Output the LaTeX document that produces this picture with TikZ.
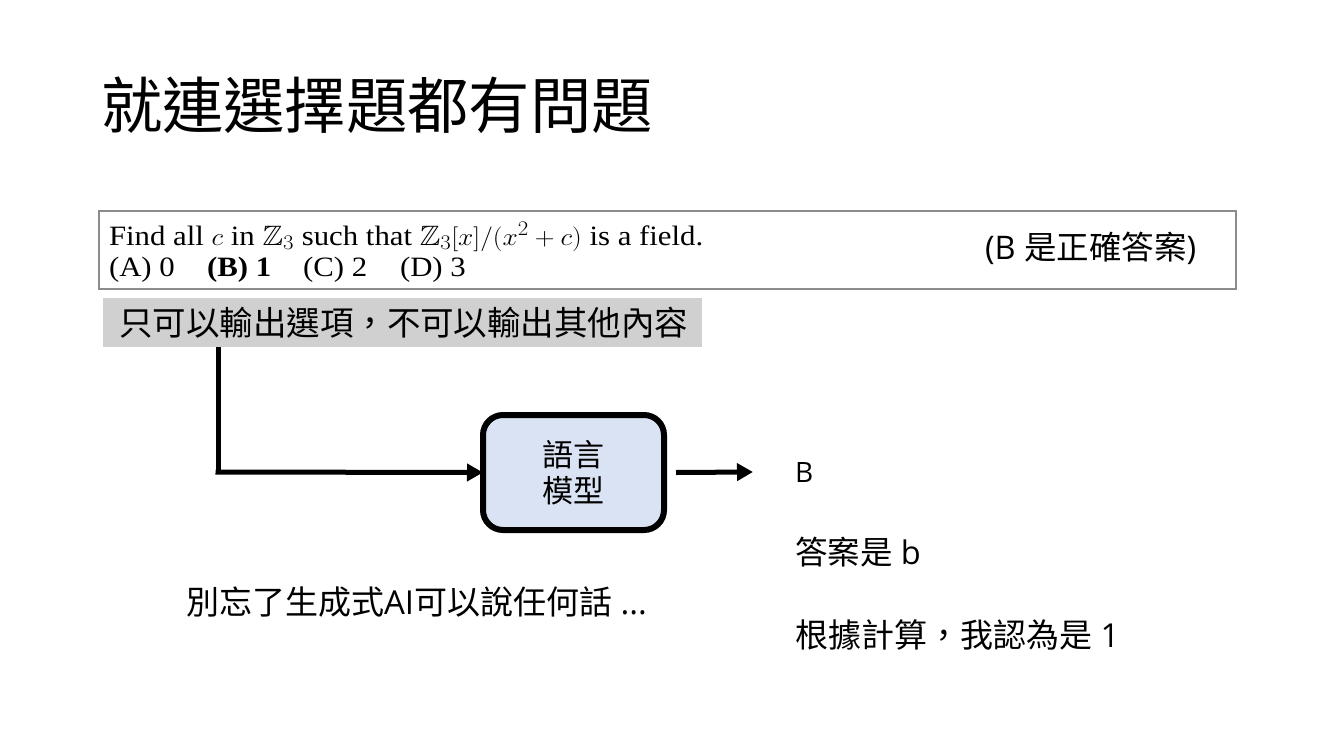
\documentclass[tikz,border=0pt]{standalone}
\usepackage{amssymb}
\usepackage{fontspec}
\setmainfont{Noto Sans CJK TC}[Script=CJK,Language=Chinese Traditional]
\newfontfamily\qfont{Liberation Serif}
\newfontfamily\lat{Open Sans}
\usetikzlibrary{arrows.meta}
\definecolor{modelfill}{HTML}{DAE3F3}
\definecolor{notegray}{HTML}{D0D0D0}
\definecolor{framegray}{HTML}{8C8C8C}
% question text is set slightly widened
\newcommand{\qwide}[1]{\scalebox{1.1}[1]{#1}}
\begin{document}
\begin{tikzpicture}[x=1pt,y=-1pt,
  every node/.style={inner sep=0pt, outer sep=0pt},
  txt/.style={anchor=west, font=\fontsize{#1}{#1}\selectfont},
  qtxt/.style={anchor=base west, font=\qfont\fontsize{28}{28}\selectfont},
  flow/.style={line width=5pt, -{Triangle[length=16pt,width=17pt]}},
  modelbox/.style={draw, line width=6pt, rounded corners=20pt, fill=modelfill,
    minimum width=181pt, minimum height=115pt, align=center,
    font=\fontsize{31}{36}\selectfont}]
\useasboundingbox (0,0) rectangle (1334,750);
\fill[white] (0,0) rectangle (1334,750);

% title
\node[txt=61.3] (title) at (101,105) {就連選擇題都有問題};

% question frame
\node[draw=framegray, line width=1.5pt, minimum width=1137pt, minimum height=78pt,
  anchor=north west] (qbox) at (99,211) {};
\node[qtxt] (q1) at (109,245)
  {\qwide{Find all $c$ in $\mathbb{Z}_3$ such that $\mathbb{Z}_3[x]/(x^2+c)$ is a field.}};
\node[qtxt] (qa) at (109,276) {\qwide{(A) 0}};
\node[qtxt] (qb) at (207,276) {\qwide{\textbf{(B) 1}}};
\node[qtxt] (qc) at (303,276) {\qwide{(C) 2}};
\node[qtxt] (qd) at (400,276) {\qwide{(D) 3}};
\node[txt=32.5] (ans) at (985,248) {{\lat(B }是正確答案{\lat)}};

% instruction label
\node[fill=notegray, minimum width=599pt, minimum height=49pt, anchor=north west] (inst) at (103,298) {};
\node[txt=33.5] (insttxt) at (119,323) {只可以輸出選項，不可以輸出其他內容};

% model
\node[modelbox] (model) at (573.5,472.5) {語言\\模型};

% connectors
\coordinate (drop) at (218,347);
\coordinate (bend) at (218,472);
\coordinate (outend) at (753,472);
\draw[line width=5pt] (drop) -- ([yshift=2.5pt]bend);
\draw[flow] ([xshift=-2.5pt]bend) -- (model.west);
\draw[flow] ([xshift=12pt]model.east) -- (outend);

% outputs
\node[txt=28] (o1) at (795,472) {\lat B};
\node[txt=32.5] (o2) at (795,552) {答案是{\lat\ b}};
\node[txt=33] (o3) at (795,635) {根據計算，我認為是{\lat\ 1}};

% note
\node[txt=33] (note) at (186,602) {別忘了生成式{\lat AI}可以說任何話{\lat\ ...}};
\end{tikzpicture}
\end{document}
